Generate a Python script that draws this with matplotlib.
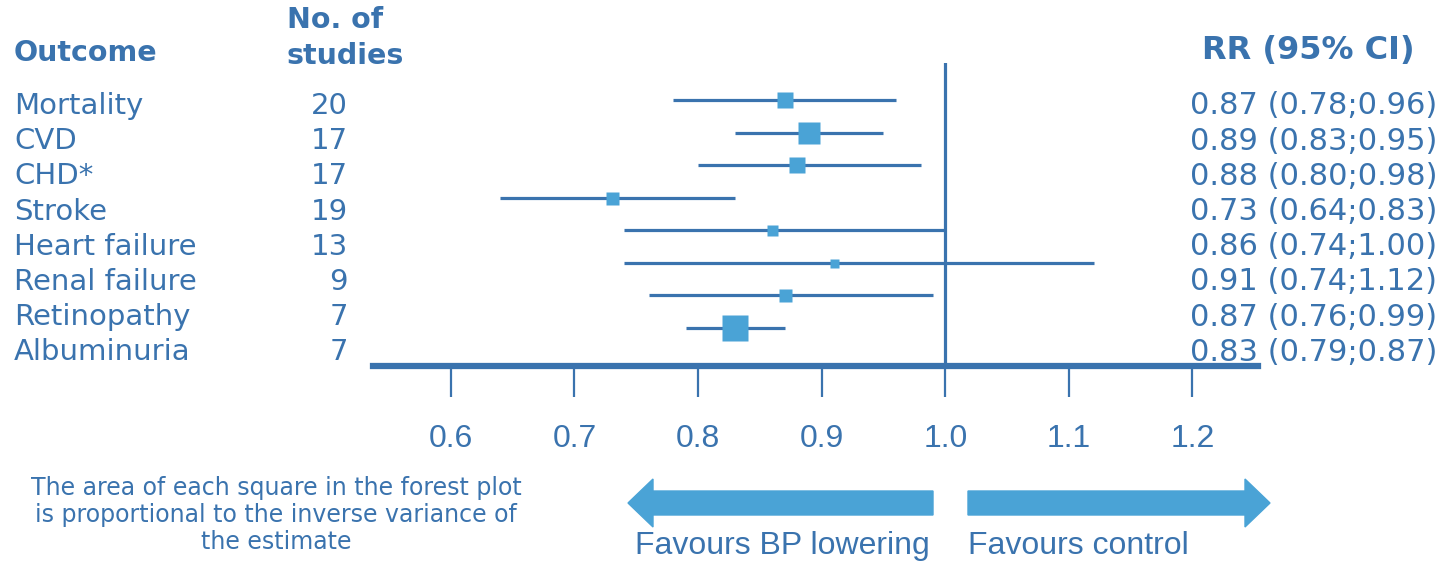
import matplotlib.pyplot as plt
from matplotlib.patches import Polygon

# data
outcomes = ["Mortality", "CVD", "CHD*", "Stroke", "Heart failure",
            "Renal failure", "Retinopathy", "Albuminuria"]
n_studies = [20, 17, 17, 19, 13, 9, 7, 7]
rr = [0.87, 0.89, 0.88, 0.73, 0.86, 0.91, 0.87, 0.83]
ci_low = [0.78, 0.83, 0.80, 0.64, 0.74, 0.74, 0.76, 0.79]
ci_high = [0.96, 0.95, 0.98, 0.83, 1.00, 1.12, 0.99, 0.87]
weights = [16, 22, 16, 13, 11, 9, 13, 27]   # relative square side
xticks = [0.6, 0.7, 0.8, 0.9, 1.0, 1.1, 1.2]

W, H = 1442, 562
dark = "#3A73AE"
light = "#4AA3D6"

fig = plt.figure(figsize=(W / 100, H / 100), dpi=100)


def px(x, y):
    # pixel position (from top-left) -> figure fraction
    return x / W, 1 - y / H


# forest axes
ax = fig.add_axes([373 / W, 1 - 366 / H, 885 / W, 303 / H])
ax.set_xlim(0.537, 1.253)
ax.set_ylim(len(rr) - 1 + 1.165, -1.135)

for i in range(len(rr)):
    ax.plot([ci_low[i], ci_high[i]], [i, i], color=dark, lw=2.3,
            solid_capstyle="butt", zorder=2)
    ax.plot(rr[i], i, marker="s", ms=weights[i] * 0.72, color=light,
            mec="none", zorder=3)

ax.axvline(1.0, color=dark, lw=2.3, zorder=1)

for s in ["top", "left", "right"]:
    ax.spines[s].set_visible(False)
ax.spines["bottom"].set_color(dark)
ax.spines["bottom"].set_linewidth(4.5)
ax.set_yticks([])
ax.set_xticks(xticks)
ax.set_xticklabels(["%.1f" % t for t in xticks])
ax.tick_params(axis="x", direction="out", length=22, width=1.6,
               color=dark, pad=20, labelcolor=dark, labelsize=23)
for lab in ax.get_xticklabels():
    lab.set_fontfamily("Liberation Sans")

# headers
fig.text(*px(14, 53), "Outcome", ha="left", va="center", fontsize=20.5,
         fontweight="bold", color=dark)
fig.text(*px(287, 20), "No. of", ha="left", va="center", fontsize=20.5,
         fontweight="bold", color=dark)
fig.text(*px(287, 56), "studies", ha="left", va="center", fontsize=20.5,
         fontweight="bold", color=dark)
fig.text(*px(1308, 50), "RR (95% CI)", ha="center", va="center",
         fontsize=23, fontweight="bold", color=dark)

# table rows
for i in range(len(outcomes)):
    y = 106 + 35.2 * i
    fig.text(*px(14, y), outcomes[i], ha="left", va="center",
             fontsize=21, color=dark)
    fig.text(*px(348, y), str(n_studies[i]), ha="right", va="center",
             fontsize=21, color=dark)
    txt = "%.2f (%.2f;%.2f)" % (rr[i], ci_low[i], ci_high[i])
    fig.text(*px(1437, y), txt, ha="right", va="center",
             fontsize=22, color=dark)

# note
note = ("The area of each square in the forest plot\n"
        "is proportional to the inverse variance of\n"
        "the estimate")
fig.text(*px(276, 515), note, ha="center", va="center", fontsize=17,
         color=dark, linespacing=1.15)


# arrows
def arrow(x_tail, x_tip, y_mid, body=24, head=48, head_len=25):
    d = 1 if x_tip > x_tail else -1
    xb = x_tip - d * head_len
    pts = [(x_tail, y_mid - body / 2), (xb, y_mid - body / 2),
           (xb, y_mid - head / 2), (x_tip, y_mid),
           (xb, y_mid + head / 2), (xb, y_mid + body / 2),
           (x_tail, y_mid + body / 2)]
    fig.patches.append(Polygon([px(a, b) for a, b in pts], closed=True,
                               transform=fig.transFigure, color=light))


arrow(933, 628, 503)
arrow(968, 1270, 503)
fig.text(*px(635, 546), "Favours BP lowering", ha="left", va="center",
         fontsize=23, color=dark, family="Liberation Sans")
fig.text(*px(968, 546), "Favours control", ha="left", va="center",
         fontsize=23, color=dark, family="Liberation Sans")

fig.savefig("out.png", dpi=100)
